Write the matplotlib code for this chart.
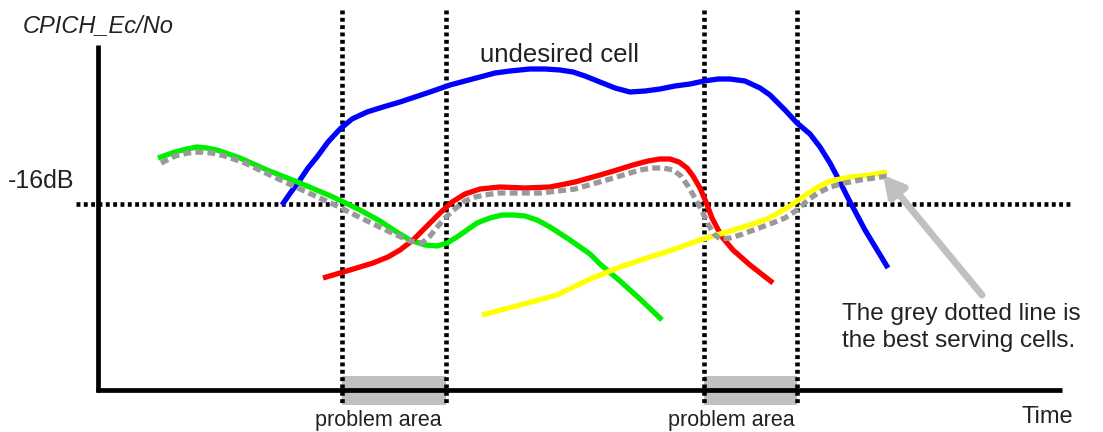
import numpy as np
import matplotlib.pyplot as plt

plt.rcParams['font.family'] = ['Liberation Sans', 'DejaVu Sans']

# curves, in picture coordinates (x right, y down)
blue_x = [282, 291, 300, 308, 317, 328, 340, 352, 367, 383, 400, 415, 430, 450, 465, 480, 495, 510, 530, 545, 560, 573, 585, 600, 615, 630, 645, 660, 675, 690, 704, 718, 730, 745, 760, 770, 785, 797, 810, 820, 830, 840, 848, 865, 888]
blue_y = [205, 192, 180, 168, 157, 142, 129, 119, 112, 107, 102, 97, 92, 85, 81, 77, 73, 71, 69, 69, 70, 72, 76, 82, 88, 92, 91, 89, 86, 84, 81, 79, 79, 81, 88, 95, 110, 123, 134, 147, 163, 182, 198, 230, 268]

green_x = [158, 175, 187, 197, 207, 217, 240, 267, 300, 333, 360, 380, 395, 410, 425, 437, 447, 457, 467, 477, 490, 502, 513, 525, 537, 550, 570, 590, 600, 620, 640, 662]
green_y = [158, 152, 149, 147, 148, 150, 158, 170, 183, 197, 210, 221, 231, 240, 245, 246, 243, 237, 230, 223, 218, 215, 215, 216, 220, 227, 240, 254, 264, 281, 299, 320]

red_x = [323, 350, 373, 388, 400, 413, 425, 440, 452, 465, 480, 500, 525, 550, 575, 600, 617, 633, 648, 660, 670, 679, 687, 693, 700, 706, 712, 722, 733, 750, 773]
red_y = [278, 270, 263, 257, 250, 240, 228, 213, 202, 194, 189, 187, 188, 187, 182, 175, 170, 165, 161, 159, 159, 162, 168, 176, 188, 202, 218, 237, 250, 265, 283]

yellow_x = [482, 520, 557, 590, 620, 650, 675, 700, 730, 750, 767, 778, 790, 800, 810, 820, 830, 840, 850, 870, 887]
yellow_y = [315, 305, 295, 279, 267, 257, 249, 240, 231, 225, 219, 213, 206, 199, 192, 186, 181, 179, 177, 175, 172]

best_x = [161, 175, 188, 200, 212, 225, 245, 270, 300, 335, 365, 390, 410, 422, 430, 438, 446, 456, 465, 475, 485, 498, 510, 540, 575, 610, 640, 652, 663, 673, 681, 688, 695, 702, 708, 714, 720, 730, 740, 770, 785, 797, 808, 818, 830, 845, 860, 888]
best_y = [163, 156, 153, 152, 153, 156, 163, 175, 189, 205, 220, 232, 241, 243, 236, 226, 217, 208, 201, 197, 195, 193, 193, 193, 189, 179, 170, 168, 168, 170, 176, 186, 198, 211, 224, 234, 239, 238, 235, 224, 218, 210, 200, 193, 187, 183, 180, 176]

vlines_x = [342, 446, 704, 797]
problem_spans = [(342, 446), (704, 797)]
level_y = 204

fig = plt.figure(figsize=(11.03, 4.32), dpi=100)
ax = fig.add_axes([0, 0, 1, 1])
ax.set_xlim(0, 1103)
ax.set_ylim(432, 0)
ax.axis('off')

# problem area shading
for x0, x1 in problem_spans:
    ax.fill_between([x0, x1], 376, 405, color='#c0c0c0', lw=0, zorder=1)

# axes
ax.plot([98, 98], [45, 392], color='black', lw=3.4, solid_capstyle='butt', zorder=3)
ax.plot([96, 1062], [390, 390], color='black', lw=3.4, solid_capstyle='butt', zorder=3)

dots = (0, (0.85, 0.75))
ax.plot([76, 1073], [level_y, level_y], color='black', lw=3.3, ls=dots, zorder=2)
for x in vlines_x:
    ax.plot([x, x], [10, 406], color='black', lw=3.3, ls=dots, zorder=2)

style = dict(lw=3.8, solid_joinstyle='round', solid_capstyle='butt', zorder=4)
ax.plot(blue_x, blue_y, color='#0000ff', **style)
ax.plot(green_x, green_y, color='#00ee00', **style)
ax.plot(red_x, red_y, color='#ff0000', **style)
ax.plot(yellow_x, yellow_y, color='#ffff00', **style)
ax.plot(best_x, best_y, color='#999999', lw=3.8, ls=(0, (1.5, 0.8)), zorder=5)

ax.annotate('', xy=(883, 175), xytext=(982, 295),
            arrowprops=dict(arrowstyle='-|>,head_length=1.2,head_width=0.65',
                            color='#c0c0c0', lw=5, shrinkA=0, shrinkB=0),
            zorder=6)

txt = '#222222'
ax.text(23, 32, 'CPICH_Ec/No', fontsize=17, style='italic', color=txt, va='baseline')
ax.text(8, 188, '-16dB', fontsize=18, color=txt, va='baseline')
ax.text(480, 62, 'undesired cell', fontsize=18.5, color=txt, va='baseline')
ax.text(315, 426, 'problem area', fontsize=15.5, color=txt, va='baseline')
ax.text(668, 426, 'problem area', fontsize=15.5, color=txt, va='baseline')
ax.text(1021, 423, 'Time', fontsize=17, color=txt, va='baseline')
ax.text(842, 320, 'The grey dotted line is', fontsize=17.5, color=txt, va='baseline')
ax.text(842, 347, 'the best serving cells.', fontsize=17.5, color=txt, va='baseline')

fig.savefig('out.png', dpi=100)
